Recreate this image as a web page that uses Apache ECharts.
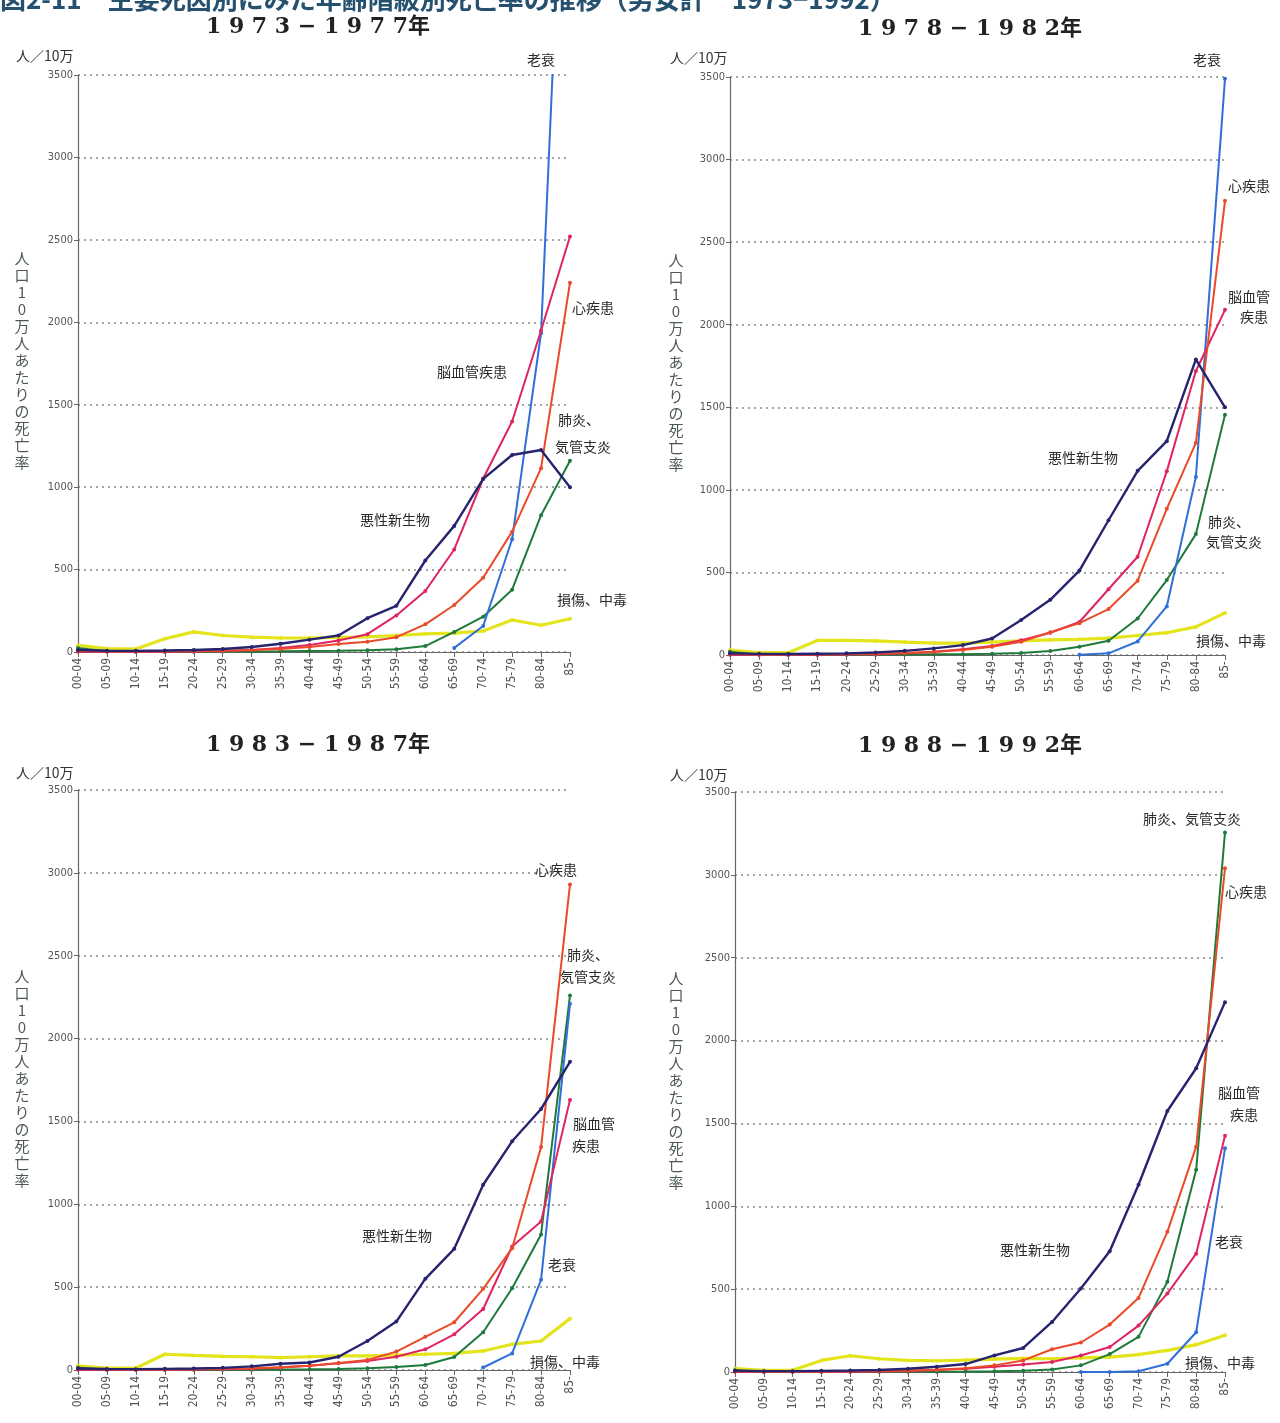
<!DOCTYPE html>
<html>
<head>
<meta charset="utf-8">
<script src="https://cdn.jsdelivr.net/npm/echarts@6/dist/echarts.min.js"></script>
<style>
html,body{margin:0;padding:0;background:#fff;}
#chart{width:1280px;height:1423px;}
</style>
</head>
<body>
<div id="chart"></div>
<script>
// ---- Data ----
const ageGroups = ['00-04','05-09','10-14','15-19','20-24','25-29','30-34','35-39','40-44','45-49','50-54','55-59','60-64','65-69','70-74','75-79','80-84','85-'];
const yMin = 0, yMax = 3500, yInterval = 500;
const periods = ['1973−1977年','1978−1982年','1983−1987年','1988−1992年'];
const causeNames = ['損傷、中毒','肺炎、気管支炎','老衰','脳血管疾患','心疾患','悪性新生物'];

// 1973-1977
const injury73  = [40, 20, 18, 80, 122, 100, 90, 85, 85, 88, 92, 100, 110, 115, 128, 194, 162, 202];
const pneu73    = [25, 4, 2, 2, 2, 3, 3, 4, 6, 8, 11, 16, 36, 122, 214, 378, 830, 1160];
const senil73   = [null, null, null, null, null, null, null, null, null, null, null, null, null, 25, 158, 684, 1934, 5900];
const cerebro73 = [2, 1, 1, 2, 3, 6, 12, 24, 42, 70, 108, 222, 370, 622, 1052, 1398, 1950, 2520];
const heart73   = [8, 3, 3, 4, 6, 8, 12, 18, 30, 48, 62, 90, 168, 285, 450, 730, 1115, 2240];
const cancer73  = [12, 8, 7, 9, 12, 18, 30, 50, 75, 100, 205, 280, 555, 765, 1050, 1195, 1225, 1000];

// 1978-1982
const injury78  = [30, 15, 14, 88, 88, 85, 78, 72, 72, 78, 85, 92, 95, 102, 118, 135, 170, 255];
const pneu78    = [20, 3, 2, 2, 2, 2, 3, 4, 5, 7, 12, 24, 50, 86, 221, 454, 732, 1455];
const senil78   = [null, null, null, null, null, null, null, null, null, null, null, null, 2, 10, 82, 294, 1078, 3490];
const cerebro78 = [2, 1, 1, 2, 3, 5, 10, 20, 35, 55, 90, 135, 200, 398, 595, 1112, 1720, 2090];
const heart78   = [8, 3, 3, 4, 6, 8, 12, 18, 30, 50, 80, 138, 193, 278, 450, 885, 1285, 2750];
const cancer78  = [10, 7, 6, 8, 10, 15, 25, 40, 60, 100, 212, 334, 511, 816, 1115, 1295, 1790, 1500];

// 1983-1987
const injury83  = [25, 12, 12, 95, 88, 82, 80, 75, 80, 85, 85, 90, 95, 100, 115, 155, 175, 310];
const pneu83    = [15, 2, 1, 1, 1, 2, 2, 3, 4, 6, 10, 18, 30, 78, 228, 493, 818, 2260];
const senil83   = [null, null, null, null, null, null, null, null, null, null, null, null, null, null, 15, 100, 544, 2210];
const cerebro83 = [2, 1, 1, 2, 3, 4, 8, 15, 25, 40, 55, 80, 125, 215, 368, 745, 896, 1630];
const heart83   = [7, 2, 2, 3, 5, 7, 10, 16, 25, 42, 60, 111, 200, 288, 490, 735, 1345, 2930];
const cancer83  = [9, 6, 5, 7, 9, 13, 22, 38, 45, 80, 175, 292, 550, 731, 1118, 1380, 1575, 1860];

// 1988-1992
const injury88  = [20, 10, 10, 70, 98, 80, 70, 68, 72, 78, 82, 80, 85, 90, 105, 130, 165, 222];
const pneu88    = [10, 1, 1, 1, 1, 1, 2, 2, 3, 5, 8, 15, 40, 108, 212, 544, 1220, 3256];
const senil88   = [null, null, null, null, null, null, null, null, null, null, null, null, 0, 0, 5, 50, 240, 1350];
const cerebro88 = [1, 1, 1, 1, 2, 3, 6, 12, 20, 32, 45, 60, 100, 151, 280, 473, 714, 1425];
const heart88   = [6, 2, 2, 3, 5, 6, 9, 14, 22, 40, 70, 137, 178, 286, 447, 846, 1360, 3040];
const cancer88  = [8, 5, 5, 7, 9, 12, 20, 32, 48, 100, 145, 302, 504, 729, 1130, 1575, 1833, 2232];

const panelData = [
  [injury73, pneu73, senil73, cerebro73, heart73, cancer73],
  [injury78, pneu78, senil78, cerebro78, heart78, cancer78],
  [injury83, pneu83, senil83, cerebro83, heart83, cancer83],
  [injury88, pneu88, senil88, cerebro88, heart88, cancer88]
];

// ---- Styles / layout ----
const colors = ['#e4e41c', '#1f7a3a', '#2f6fd6', '#e0245e', '#ea4a2a', '#26246e'];
const widths = [3.2, 2, 2, 2, 2, 2.4];
const grids = [
  {left: 78,  top: 75,  width: 492, height: 577},
  {left: 730, top: 77,  width: 495, height: 578},
  {left: 78,  top: 790, width: 492, height: 580},
  {left: 735, top: 792, width: 490, height: 580}
];

const xAxes = [], yAxes = [], series = [];
grids.forEach((g, i) => {
  xAxes.push({
    type: 'category', gridIndex: i, data: ageGroups, boundaryGap: false,
    axisLine: {lineStyle: {color: '#666', width: 1.2}},
    axisTick: {show: true, length: 5, lineStyle: {color: '#666'}},
    axisLabel: {rotate: 90, fontSize: 12, color: '#555', margin: 6,
      fontFamily: '"Liberation Sans Narrow","DejaVu Sans Condensed",sans-serif', interval: 0},
    splitLine: {show: false}
  });
  yAxes.push({
    type: 'value', gridIndex: i, min: yMin, max: yMax, interval: yInterval,
    axisLine: {show: true, lineStyle: {color: '#666', width: 1.2}},
    axisTick: {show: true, length: 4, lineStyle: {color: '#666'}},
    axisLabel: {fontSize: 11, color: '#555', margin: 5, formatter: v => String(v),
      fontFamily: '"Liberation Sans Narrow","DejaVu Sans Condensed",sans-serif'},
    splitLine: {show: true, lineStyle: {color: '#888', type: [2, 4], width: 1.6}}
  });
  panelData[i].forEach((arr, k) => {
    series.push({
      type: 'line', name: causeNames[k], xAxisIndex: i, yAxisIndex: i,
      data: arr, clip: true, connectNulls: false,
      symbol: 'circle', symbolSize: 4, showSymbol: true,
      itemStyle: {color: colors[k]},
      lineStyle: {color: colors[k], width: widths[k]},
      z: 2 + k, animation: false
    });
  });
});

// ---- Annotation texts ----
const lblFont = '14px "Noto Sans CJK JP", sans-serif';
function lbl(text, x, y) {
  return {type: 'text', x: x, y: y, z: 100,
    style: {text: text, font: lblFont, fill: '#2a2a2a', textAlign: 'left', textVerticalAlign: 'middle'}};
}
const titleFont = 'bold 22px "DejaVu Serif", "Noto Sans CJK JP", serif';
function ttl(text, cx, cy) {
  return {type: 'text', x: cx, y: cy, z: 100,
    style: {text: text, font: titleFont, fill: '#222', textAlign: 'center', textVerticalAlign: 'middle'}};
}
function unit(x, y) {
  return {type: 'text', x: x, y: y, z: 100,
    style: {text: '人／10万', font: '14px "Noto Sans CJK JP", sans-serif', fill: '#333', textAlign: 'left', textVerticalAlign: 'middle'}};
}
const vname = '人口10万人あたりの死亡率'.split('').join('\n');
function vlab(x, y) {
  return {type: 'text', x: x, y: y, z: 100,
    style: {text: vname, font: '15px "Noto Sans CJK JP", sans-serif', lineHeight: 17, fill: '#4d5a52', textAlign: 'center', textVerticalAlign: 'top'}};
}
function sp(s) { return s.split('').join(' ').replace(' 年', '年'); }

const graphics = [
  {type: 'text', x: 0, y: -14, z: 100, style: {text: '図2-11　主要死因別にみた年齢階級別死亡率の推移（男女計　1973−1992）',
    font: 'bold 26px "Noto Sans CJK JP", sans-serif', fill: '#25506e', textAlign: 'left', textVerticalAlign: 'top'}},
  ttl(sp(periods[0]), 318, 27), ttl(sp(periods[1]), 970, 29),
  ttl(sp(periods[2]), 318, 745), ttl(sp(periods[3]), 970, 746),
  unit(16, 56), unit(670, 58), unit(16, 773), unit(670, 775),
  vlab(22, 250), vlab(676, 252), vlab(22, 968), vlab(676, 970),
  // panel 1
  lbl('老衰', 527, 60), lbl('心疾患', 572, 308), lbl('脳血管疾患', 437, 372),
  lbl('肺炎、', 558, 420), lbl('気管支炎', 555, 447), lbl('悪性新生物', 360, 520), lbl('損傷、中毒', 557, 600),
  // panel 2
  lbl('老衰', 1193, 60), lbl('心疾患', 1228, 186), lbl('脳血管', 1228, 297), lbl('疾患', 1240, 317),
  lbl('悪性新生物', 1048, 458), lbl('肺炎、', 1208, 522), lbl('気管支炎', 1206, 542), lbl('損傷、中毒', 1196, 641),
  // panel 3
  lbl('心疾患', 535, 870), lbl('肺炎、', 567, 955), lbl('気管支炎', 560, 977), lbl('脳血管', 573, 1124), lbl('疾患', 572, 1146),
  lbl('悪性新生物', 362, 1236), lbl('老衰', 548, 1265), lbl('損傷、中毒', 530, 1362),
  // panel 4
  lbl('肺炎、気管支炎', 1143, 819), lbl('心疾患', 1225, 892), lbl('脳血管', 1218, 1093), lbl('疾患', 1230, 1115),
  lbl('悪性新生物', 1000, 1250), lbl('老衰', 1215, 1242), lbl('損傷、中毒', 1185, 1363)
];

const chart = echarts.init(document.getElementById('chart'), null, {renderer: 'canvas'});
chart.setOption({
  backgroundColor: '#fff',
  animation: false,
  grid: grids,
  xAxis: xAxes,
  yAxis: yAxes,
  series: series,
  graphic: graphics
});
</script>
</body>
</html>
